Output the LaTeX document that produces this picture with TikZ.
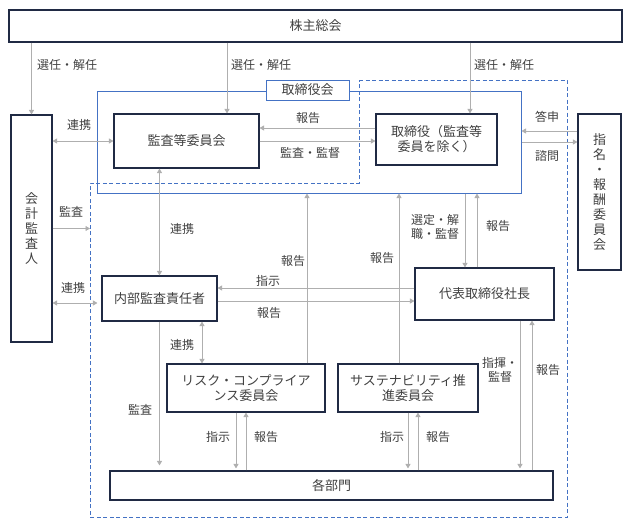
\documentclass[tikz,border=0pt]{standalone}
\usepackage{fontspec}
\setmainfont{Noto Sans CJK JP}
\usepackage{tikz}
\usetikzlibrary{arrows.meta, positioning, calc}
\definecolor{navy}{RGB}{32,42,68}
\definecolor{bodblue}{RGB}{68,114,196}
\definecolor{arrgray}{RGB}{175,175,175}
\definecolor{txt}{RGB}{64,64,64}

\begin{document}
\begin{tikzpicture}[x=1pt, y=-1pt,
      box/.style={rectangle, draw=navy, line width=1.1pt, align=center, text=txt,
                  font=\fontsize{13}{15}\selectfont, inner sep=2pt},
      lbl/.style={text=txt, align=center, font=\fontsize{12}{14.5}\selectfont, inner sep=1pt},
      arr/.style={-{Triangle[length=4.5pt, width=5pt]}, arrgray, line width=0.9pt},
      dbl/.style={{Triangle[length=4.5pt, width=5pt]}-{Triangle[length=4.5pt, width=5pt]}, arrgray, line width=0.9pt},
    ]
    \useasboundingbox (0,0) rectangle (630,528);
    % board of directors frame
    \node[draw=bodblue, line width=1pt, minimum width=424pt, minimum height=102pt] (bod) at (309,142) {};
    \node[draw=bodblue, line width=0.8pt, fill=white, text=txt, font=\fontsize{13}{15}\selectfont,
          minimum width=83pt, minimum height=20pt, inner sep=1pt] (bodlbl) at (307.5,90) {取締役会};
    % executive area
    \draw[bodblue, line width=1pt, dash pattern=on 4pt off 2.5pt]
      (359,80) -- (567,80) -- (567,517) -- (90,517) -- (90,183) -- (359,183) -- cycle;

    \node[box, minimum width=613pt, minimum height=32pt] (shm) at (315.5,26) {株主総会};
    \node[box, minimum width=41pt, minimum height=227pt] (aud) at (31.5,228.5) {会\\計\\監\\査\\人};
    \node[box, minimum width=145pt, minimum height=54pt] (ac) at (186.5,141) {監査等委員会};
    \node[box, minimum width=121pt, minimum height=51pt] (dir) at (436.5,139.5) {取締役（監査等\\委員を除く）};
    \node[box, minimum width=43pt, minimum height=156pt] (nom) at (599.5,192) {指\\名\\・\\報\\酬\\委\\員\\会};
    \node[box, minimum width=115pt, minimum height=45pt] (ia) at (159.5,298.5) {内部監査責任者};
    \node[box, minimum width=139pt, minimum height=52pt] (ceo) at (484.5,294) {代表取締役社長};
    \node[box, minimum width=158pt, minimum height=48pt] (risk) at (246,388) {リスク・コンプライア\\ンス委員会};
    \node[box, minimum width=140pt, minimum height=48pt] (sus) at (408,388) {サステナビリティ推\\進委員会};
    \node[box, minimum width=443pt, minimum height=29pt] (dep) at (331.5,485.5) {各部門};
    \coordinate (auddst) at (90,228.5);

    % shareholders
    \draw[arr] (shm.south -| aud.north) -- (aud.north);
    \draw[arr] ([xshift=40.5pt]ac.north |- shm.south) -- ([xshift=40.5pt]ac.north);
    \draw[arr] ([xshift=33.5pt]dir.north |- shm.south) -- ([xshift=33.5pt]dir.north);
    \node[lbl, anchor=west] at (36,65) {選任・解任};
    \node[lbl, anchor=west] at (230,65) {選任・解任};
    \node[lbl, anchor=west] at (473,65) {選任・解任};

    % accounting auditor
    \draw[dbl] (aud.east |- ac.west) -- (ac.west);
    \node[lbl] at (79,125) {連携};
    \draw[arr] (aud.east |- auddst) -- (auddst);
    \node[lbl] at (71,212) {監査};
    \draw[dbl] ([yshift=-4.5pt]aud.east |- ia.west) -- ([yshift=-4.5pt, xshift=-4pt]ia.west);
    \node[lbl] at (73,288) {連携};

    % audit committee <-> directors
    \draw[arr] ([yshift=13pt]ac.east -| dir.west) -- ([yshift=13pt]ac.east);
    \draw[arr] (ac.east) -- (ac.east -| dir.west);
    \node[lbl] at (308,118) {報告};
    \node[lbl] at (310,153) {監査・監督};

    % nomination committee
    \draw[arr] ([yshift=61pt]nom.west) -- ([yshift=61pt]nom.west -| bod.east);
    \draw[arr] ([yshift=50pt]nom.west -| bod.east) -- ([yshift=50pt]nom.west);
    \node[lbl] at (547,117) {答申};
    \node[lbl] at (547,156) {諮問};

    % audit committee <-> internal audit
    \draw[dbl] (ia.north |- ac.south) -- (ia.north);
    \node[lbl] at (182,229) {連携};

    % president
    \draw[arr] ([yshift=6pt]ceo.west) -- ([yshift=6pt]ceo.west -| ia.east);
    \draw[arr] ([yshift=-7pt]ceo.west -| ia.east) -- ([yshift=-7pt]ceo.west);
    \node[lbl] at (268,281) {指示};
    \node[lbl] at (269,313) {報告};
    \draw[arr] ([xshift=-19.5pt]ceo.north |- bod.south) -- ([xshift=-19.5pt]ceo.north);
    \draw[arr] ([xshift=-7.5pt]ceo.north) -- ([xshift=-7.5pt]ceo.north |- bod.south);
    \node[lbl] at (435,227) {選定・解\\職・監督};
    \node[lbl] at (498,226) {報告};

    % committees report to board
    \draw[arr] ([xshift=61pt]risk.north) -- ([xshift=61pt]risk.north |- bod.south);
    \node[lbl] at (293,261) {報告};
    \draw[arr] ([xshift=-9pt]sus.north) -- ([xshift=-9pt]sus.north |- bod.south);
    \node[lbl] at (382,258) {報告};

    % internal audit
    \draw[dbl] ([xshift=42.5pt]ia.south) -- ([xshift=42.5pt]ia.south |- risk.north);
    \node[lbl] at (182,345) {連携};
    \draw[arr] (ia.south) -- ([yshift=5pt]ia.south |- dep.north);
    \node[lbl] at (140,410) {監査};

    % departments
    \draw[arr] ([xshift=-10pt]risk.south) -- ([xshift=-10pt, yshift=2pt]risk.south |- dep.north);
    \draw[arr] (risk.south |- dep.north) -- (risk.south);
    \node[lbl] at (218,437) {指示};
    \node[lbl] at (266,437) {報告};
    \draw[arr] (sus.south) -- ([yshift=2pt]sus.south |- dep.north);
    \draw[arr] ([xshift=10pt]sus.south |- dep.north) -- ([xshift=10pt]sus.south);
    \node[lbl] at (392,437) {指示};
    \node[lbl] at (438,437) {報告};
    \draw[arr] ([xshift=35.5pt]ceo.south) -- ([xshift=35.5pt, yshift=2pt]ceo.south |- dep.north);
    \draw[arr] ([xshift=47.5pt]ceo.south |- dep.north) -- ([xshift=47.5pt]ceo.south);
    \node[lbl] at (500,370) {指揮・\\監督};
    \node[lbl] at (548,370) {報告};
\end{tikzpicture}
\end{document}
